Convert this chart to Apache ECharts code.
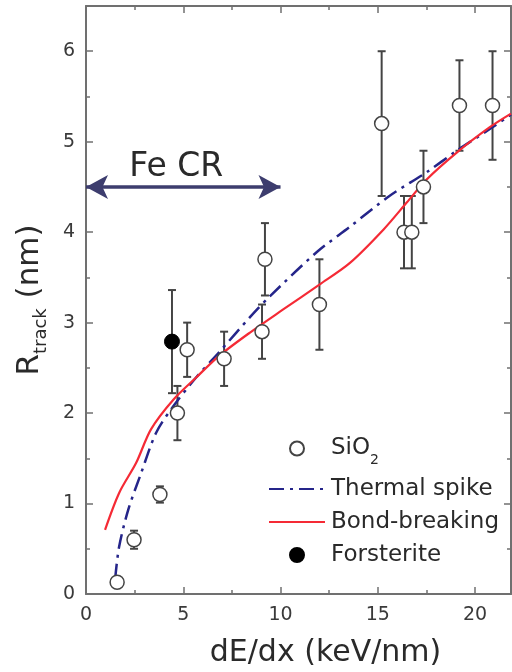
<!DOCTYPE html>
<html>
<head>
<meta charset="utf-8">
<script src="https://cdn.jsdelivr.net/npm/echarts@6/dist/echarts.min.js"></script>
<style>
  html, body { margin: 0; padding: 0; background: #fff; }
  #main { width: 512px; height: 672px; }
</style>
</head>
<body>
<div id="main"></div>
<script>
// SiO2 tracks: dE/dx, radius, error
const sio2X = [1.6, 2.47, 3.8, 4.7, 5.2, 7.1, 9.05, 9.2, 12.0, 15.2, 16.35, 16.75, 17.35, 19.2, 20.9];
const sio2Y = [0.13, 0.6, 1.1, 2.0, 2.7, 2.6, 2.9, 3.7, 3.2, 5.2, 4.0, 4.0, 4.5, 5.4, 5.4];
const sio2Err = [0.05, 0.1, 0.09, 0.3, 0.3, 0.3, 0.3, 0.4, 0.5, 0.8, 0.4, 0.4, 0.4, 0.5, 0.6];

// Forsterite
const forX = [4.42];
const forY = [2.79];
const forErr = [0.57];

// model curves
const thermalX = [1.5, 1.7, 2.17, 2.84, 3.6, 4.47, 5.65, 6.83, 8.43, 9.45, 11.87, 13.57, 15.6, 17.5, 19.06, 20.76, 21.85];
const thermalY = [0.17, 0.52, 0.93, 1.34, 1.78, 2.07, 2.39, 2.67, 3.06, 3.29, 3.78, 4.06, 4.4, 4.66, 4.9, 5.14, 5.3];
const bondX = [0.98, 1.71, 2.58, 3.34, 4.5, 5.65, 6.83, 8.43, 10.1, 12.0, 13.57, 15.3, 16.5, 17.5, 19.06, 20.76, 21.85];
const bondY = [0.71, 1.12, 1.45, 1.82, 2.15, 2.39, 2.63, 2.89, 3.14, 3.42, 3.66, 4.03, 4.33, 4.58, 4.88, 5.16, 5.31];

// Fe CR range arrow
const feRange = [0, 10];
const feLevel = 4.5;

const font = 'DejaVu Sans';
const axisColor = '#707070';
const textColor = '#2a2a2a';

function zip(xs, ys, es) {
    return xs.map((x, i) => es ? [x, ys[i], es[i]] : [x, ys[i]]);
}

function errorBars(params, api) {
    let x = api.value(0), y = api.value(1), e = api.value(2);
    let top = api.coord([x, y + e]);
    let bot = api.coord([x, y - e]);
    let cap = 4;
    let style = { stroke: '#444', lineWidth: 2 };
    return {
        type: 'group',
        children: [
            { type: 'line', shape: { x1: top[0], y1: top[1], x2: bot[0], y2: bot[1] }, style: style },
            { type: 'line', shape: { x1: top[0] - cap, y1: top[1], x2: top[0] + cap, y2: top[1] }, style: style },
            { type: 'line', shape: { x1: bot[0] - cap, y1: bot[1], x2: bot[0] + cap, y2: bot[1] }, style: style }
        ]
    };
}

function frameAxis(extra) {
    return Object.assign({
        type: 'value',
        axisLine: { show: true, onZero: false, lineStyle: { color: axisColor, width: 2 } },
        axisTick: { show: true, inside: true, length: 7, lineStyle: { color: axisColor, width: 1.5 } },
        minorTick: { show: true, splitNumber: 2, length: 4, lineStyle: { color: axisColor, width: 1.5 } },
        splitLine: { show: false },
        axisLabel: { show: false }
    }, extra);
}

// line items in the legend: hide the marker, keep the stroke
const noMarker = { color: 'transparent', borderColor: 'transparent', borderWidth: 0 };

const chart = echarts.init(document.getElementById('main'));

const option = {
    animation: false,
    backgroundColor: '#fff',
    grid: { left: 86, top: 6, right: 1, bottom: 78, outerBoundsMode: 'none' },
    xAxis: [
        frameAxis({
            min: 0, max: 21.85, interval: 5,
            axisLabel: { show: true, showMaxLabel: false, margin: 12, fontFamily: font, fontSize: 19, color: '#3a3a3a' },
            name: 'dE/dx (keV/nm)',
            nameLocation: 'middle',
            nameGap: 44,
            nameTextStyle: { fontFamily: font, fontSize: 30, color: textColor, padding: [0, 0, 0, 54] }
        }),
        frameAxis({ min: 0, max: 21.85, interval: 5, position: 'top' })
    ],
    yAxis: [
        frameAxis({
            min: 0, max: 6.5, interval: 1,
            axisLabel: { show: true, showMaxLabel: false, margin: 11, fontFamily: font, fontSize: 19, color: '#3a3a3a' },
            name: '{r|R}{s|track}{r| (nm)}',
            nameLocation: 'middle',
            nameGap: 36,
            nameTextStyle: {
                color: textColor,
                rich: {
                    r: { fontFamily: font, fontSize: 31, lineHeight: 40, color: textColor },
                    s: { fontFamily: font, fontSize: 18, lineHeight: 18, verticalAlign: 'bottom', color: textColor }
                }
            }
        }),
        frameAxis({ min: 0, max: 6.5, interval: 1, position: 'right' })
    ],
    legend: {
        orient: 'vertical',
        left: 263,
        top: 432,
        itemWidth: 56,
        itemHeight: 14,
        itemGap: 10,
        data: [
            { name: 'SiO2' },
            { name: 'Thermal spike', itemStyle: noMarker },
            { name: 'Bond-breaking', itemStyle: noMarker },
            { name: 'Forsterite' }
        ],
        formatter: name => name === 'SiO2' ? '{a|SiO}{b|2}' : name,
        textStyle: {
            fontFamily: font, fontSize: 23, color: textColor, padding: [0, 0, 0, 1],
            rich: {
                a: { fontFamily: font, fontSize: 23, lineHeight: 38, color: textColor },
                b: { fontFamily: font, fontSize: 14, lineHeight: 20, verticalAlign: 'bottom', color: textColor }
            }
        }
    },
    series: [
        {
            type: 'custom',
            name: 'sio2-err',
            renderItem: errorBars,
            data: zip(sio2X, sio2Y, sio2Err),
            encode: { x: 0, y: 1 },
            z: 1,
            silent: true
        },
        {
            type: 'custom',
            name: 'for-err',
            renderItem: errorBars,
            data: zip(forX, forY, forErr),
            encode: { x: 0, y: 1 },
            z: 1,
            silent: true
        },
        {
            type: 'line',
            name: 'Thermal spike',
            data: zip(thermalX, thermalY),
            smooth: 0.3,
            symbol: 'none',
            z: 2,
            lineStyle: { color: '#25258a', width: 2.5, type: [15, 6, 3, 6] },
            itemStyle: { color: '#25258a' }
        },
        {
            type: 'line',
            name: 'Bond-breaking',
            data: zip(bondX, bondY),
            smooth: 0.3,
            symbol: 'none',
            z: 2,
            lineStyle: { color: '#f52a35', width: 2.2 },
            itemStyle: { color: '#f52a35' }
        },
        {
            type: 'scatter',
            name: 'SiO2',
            data: zip(sio2X, sio2Y),
            symbol: 'circle',
            symbolSize: 14,
            z: 3,
            itemStyle: { color: '#fff', borderColor: '#444', borderWidth: 1.5, opacity: 1 }
        },
        {
            type: 'scatter',
            name: 'Forsterite',
            data: zip(forX, forY),
            symbol: 'circle',
            symbolSize: 15,
            z: 3,
            itemStyle: { color: '#000', borderColor: '#000', borderWidth: 1, opacity: 1 }
        },
        {
            type: 'line',
            name: 'fe-cr',
            data: [],
            silent: true,
            markLine: {
                silent: true,
                symbol: ['arrow', 'arrow'],
                symbolSize: [18, 22],
                lineStyle: { color: '#3d3d6e', width: 3.5, type: 'solid' },
                label: {
                    show: true,
                    position: 'middle',
                    formatter: 'Fe CR',
                    distance: 3,
                    padding: [0, 14, 0, 0],
                    fontFamily: font,
                    fontSize: 33,
                    color: textColor
                },
                data: [[{ coord: [feRange[0], feLevel] }, { coord: [feRange[1], feLevel] }]]
            }
        }
    ]
};

chart.setOption(option);
</script>
</body>
</html>
